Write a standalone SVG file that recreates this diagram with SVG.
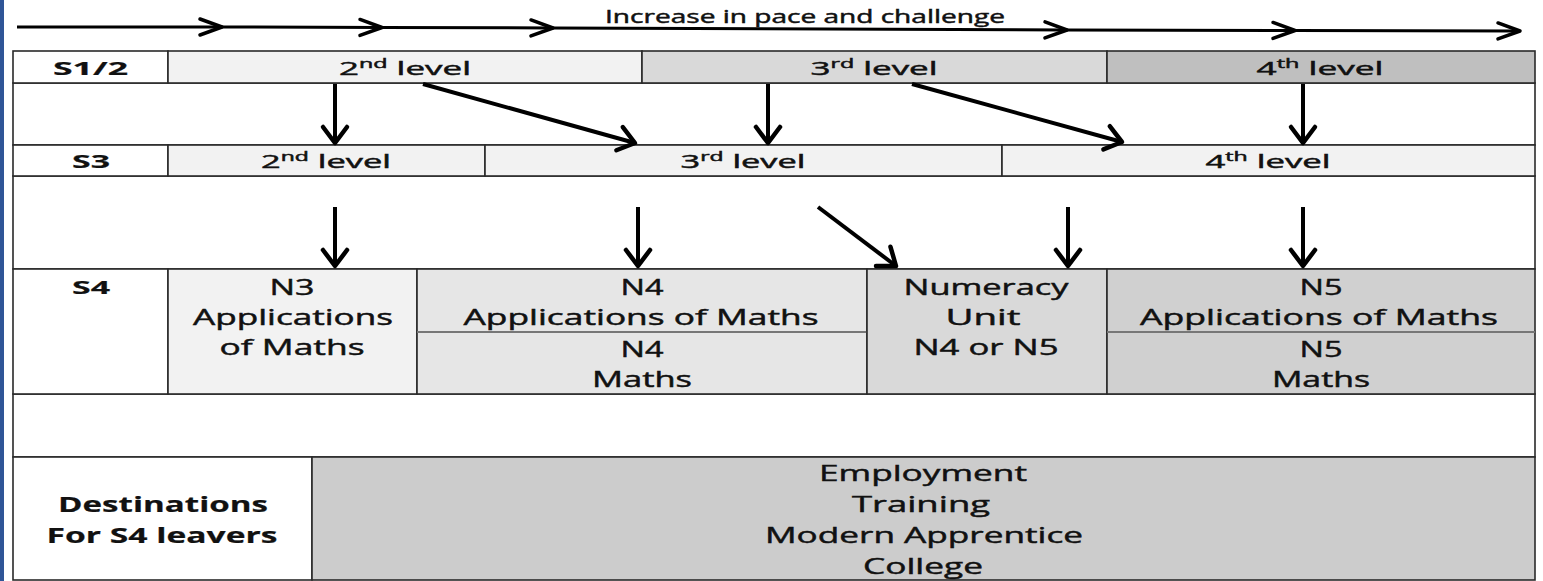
<svg xmlns="http://www.w3.org/2000/svg" width="1543" height="581" viewBox="0 0 1543 581">
<style>
  text{font-family:"Open Sans","DejaVu Sans",sans-serif;fill:#111;text-anchor:middle;stroke:#111;stroke-width:0.45}
  .t18{font-size:18px}
  .t22{font-size:22px}
  .b{font-weight:bold;stroke-width:0.2}
  .sup{font-size:12px}
  .cell{stroke:#2a2a2a;stroke-width:1.6}
  .sub{stroke:#777;stroke-width:2}
  .w{fill:#ffffff}
  .g1{fill:#f2f2f2}
  .g2{fill:#e6e6e6}
  .g3{fill:#d9d9d9}
  .g4{fill:#bfbfbf}
  .g5{fill:#d0d0d0}
  .g6{fill:#cccccc}
  .arr{stroke:#000;stroke-width:4;fill:none;marker-end:url(#head)}
  .top{stroke:#000;stroke-width:3;fill:none;marker-end:url(#thead)}
</style>
<defs>
  <marker id="head" markerUnits="userSpaceOnUse" markerWidth="40" markerHeight="40" viewBox="-20 -20 40 40" refX="0" refY="0" orient="auto" overflow="visible">
    <path d="M-16,-12 L0,0 L-16,12" fill="none" stroke="#000" stroke-width="4.5" stroke-linejoin="round" stroke-linecap="round"/>
  </marker>
  <marker id="thead" markerUnits="userSpaceOnUse" markerWidth="40" markerHeight="40" viewBox="-30 -20 40 40" refX="0" refY="0" orient="auto" overflow="visible">
    <path d="M-22,-8 L0,0 L-22,8" fill="none" stroke="#000" stroke-width="3.5" stroke-linejoin="round" stroke-linecap="round"/>
  </marker>
</defs>
<rect x="0" y="0" width="1543" height="581" fill="#ffffff"/>
<rect x="0" y="0" width="4" height="581" fill="#2f5597"/>

<g id="progress">
  <text class="t18" x="805" y="23" textLength="400" lengthAdjust="spacingAndGlyphs">Increase in pace and challenge</text>
</g>

<g id="blank-rows">
  <rect class="cell w" x="13" y="83" width="1522" height="62"/>
  <rect class="cell w" x="13" y="176" width="1522" height="93"/>
  <rect class="cell w" x="13" y="394" width="1522" height="63"/>
</g>

<g id="row-s12">
  <rect class="cell w" x="13" y="51" width="155" height="32"/>
  <text class="t18 b" x="90.5" y="75" textLength="75" lengthAdjust="spacingAndGlyphs">S1/2</text>
</g>
<g id="s12-level2">
  <rect class="cell g1" x="168" y="51" width="474" height="32"/>
  <text class="t18" x="405" y="75" textLength="132" lengthAdjust="spacingAndGlyphs">2<tspan class="sup" dy="-7">nd</tspan><tspan dy="7"> level</tspan></text>
</g>
<g id="s12-level3">
  <rect class="cell g3" x="642" y="51" width="465" height="32"/>
  <text class="t18" x="874" y="75" textLength="127" lengthAdjust="spacingAndGlyphs">3<tspan class="sup" dy="-7">rd</tspan><tspan dy="7"> level</tspan></text>
</g>
<g id="s12-level4">
  <rect class="cell g4" x="1107" y="51" width="428" height="32"/>
  <text class="t18" x="1320" y="75" textLength="127" lengthAdjust="spacingAndGlyphs">4<tspan class="sup" dy="-7">th</tspan><tspan dy="7"> level</tspan></text>
</g>

<g id="row-s3">
  <rect class="cell w" x="13" y="145" width="155" height="31"/>
  <text class="t18 b" x="91" y="168" textLength="38" lengthAdjust="spacingAndGlyphs">S3</text>
</g>
<g id="s3-level2">
  <rect class="cell g1" x="168" y="145" width="317" height="31"/>
  <text class="t18" x="326" y="168" textLength="130" lengthAdjust="spacingAndGlyphs">2<tspan class="sup" dy="-7">nd</tspan><tspan dy="7"> level</tspan></text>
</g>
<g id="s3-level3">
  <rect class="cell g1" x="485" y="145" width="517" height="31"/>
  <text class="t18" x="743" y="168" textLength="125" lengthAdjust="spacingAndGlyphs">3<tspan class="sup" dy="-7">rd</tspan><tspan dy="7"> level</tspan></text>
</g>
<g id="s3-level4">
  <rect class="cell g1" x="1002" y="145" width="533" height="31"/>
  <text class="t18" x="1268" y="168" textLength="125" lengthAdjust="spacingAndGlyphs">4<tspan class="sup" dy="-7">th</tspan><tspan dy="7"> level</tspan></text>
</g>

<g id="row-s4">
  <rect class="cell w" x="13" y="269" width="155" height="125"/>
  <text class="t18 b" x="91" y="294" textLength="38" lengthAdjust="spacingAndGlyphs">S4</text>
</g>
<g id="n3">
  <rect class="cell g1" x="168" y="269" width="249" height="125"/>
  <text class="t22" x="292" y="295" textLength="45" lengthAdjust="spacingAndGlyphs">N3</text>
  <text class="t22" x="293" y="325" textLength="200" lengthAdjust="spacingAndGlyphs">Applications</text>
  <text class="t22" x="292" y="355" textLength="145" lengthAdjust="spacingAndGlyphs">of Maths</text>
</g>
<g id="n4">
  <rect class="cell g2" x="417" y="269" width="450" height="125"/>
  <line class="sub" x1="417" y1="332" x2="867" y2="332"/>
  <text class="t22" x="642" y="295" textLength="43" lengthAdjust="spacingAndGlyphs">N4</text>
  <text class="t22" x="641" y="325" textLength="355" lengthAdjust="spacingAndGlyphs">Applications of Maths</text>
  <text class="t22" x="642" y="357" textLength="43" lengthAdjust="spacingAndGlyphs">N4</text>
  <text class="t22" x="642" y="387" textLength="100" lengthAdjust="spacingAndGlyphs">Maths</text>
</g>
<g id="numeracy">
  <rect class="cell g3" x="867" y="269" width="240" height="125"/>
  <text class="t22" x="986" y="295" textLength="165" lengthAdjust="spacingAndGlyphs">Numeracy</text>
  <text class="t22" x="983" y="325" textLength="75" lengthAdjust="spacingAndGlyphs">Unit</text>
  <text class="t22" x="986" y="355" textLength="145" lengthAdjust="spacingAndGlyphs">N4 or N5</text>
</g>
<g id="n5">
  <rect class="cell g5" x="1107" y="269" width="428" height="125"/>
  <line class="sub" x1="1107" y1="332" x2="1535" y2="332"/>
  <text class="t22" x="1321" y="295" textLength="43" lengthAdjust="spacingAndGlyphs">N5</text>
  <text class="t22" x="1319" y="325" textLength="358" lengthAdjust="spacingAndGlyphs">Applications of Maths</text>
  <text class="t22" x="1321" y="357" textLength="43" lengthAdjust="spacingAndGlyphs">N5</text>
  <text class="t22" x="1321" y="387" textLength="98" lengthAdjust="spacingAndGlyphs">Maths</text>
</g>

<g id="destinations-label">
  <rect class="cell w" x="13" y="457" width="299" height="123"/>
  <text class="t22 b" x="163" y="512" textLength="210" lengthAdjust="spacingAndGlyphs">Destinations</text>
  <text class="t22 b" x="162" y="543" textLength="231" lengthAdjust="spacingAndGlyphs">For S4 leavers</text>
</g>
<g id="destinations">
  <rect class="cell g6" x="312" y="457" width="1223" height="123"/>
  <text class="t22" x="923" y="481" textLength="208" lengthAdjust="spacingAndGlyphs">Employment</text>
  <text class="t22" x="921" y="512" textLength="138" lengthAdjust="spacingAndGlyphs">Training</text>
  <text class="t22" x="924" y="543" textLength="318" lengthAdjust="spacingAndGlyphs">Modern Apprentice</text>
  <text class="t22" x="923" y="574" textLength="120" lengthAdjust="spacingAndGlyphs">College</text>
</g>

<g id="connectors">
  <line class="top" x1="17" y1="27" x2="222" y2="27"/>
  <line class="top" x1="222" y1="27" x2="382" y2="27.5"/>
  <line class="top" x1="382" y1="27.5" x2="553" y2="28"/>
  <line class="top" x1="553" y1="28" x2="1067" y2="30"/>
  <line class="top" x1="1067" y1="30" x2="1295" y2="30.5"/>
  <line class="top" x1="1295" y1="30.5" x2="1520" y2="31"/>

  <line class="arr" x1="335" y1="84" x2="335" y2="143"/>
  <line class="arr" x1="423" y1="84" x2="635" y2="143"/>
  <line class="arr" x1="768" y1="84" x2="768" y2="143"/>
  <line class="arr" x1="912" y1="84" x2="1122" y2="142"/>
  <line class="arr" x1="1303" y1="84" x2="1303" y2="143"/>

  <line class="arr" x1="335" y1="207" x2="335" y2="266"/>
  <line class="arr" x1="638" y1="207" x2="638" y2="266"/>
  <line class="arr" x1="818" y1="207" x2="896" y2="266"/>
  <line class="arr" x1="1068" y1="207" x2="1068" y2="266"/>
  <line class="arr" x1="1303" y1="207" x2="1303" y2="266"/>
</g>
</svg>
